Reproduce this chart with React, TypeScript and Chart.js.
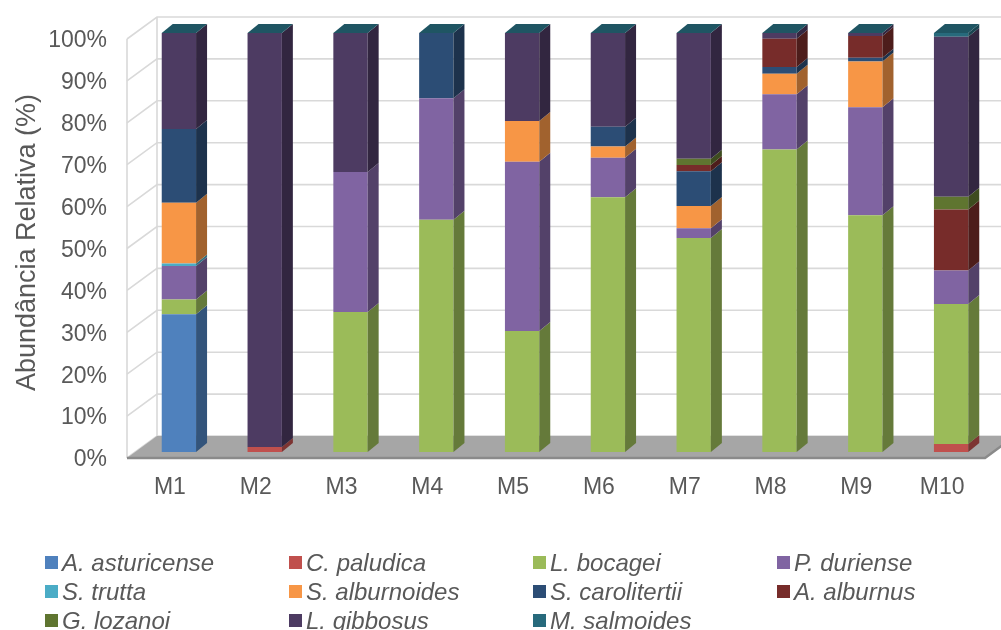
import React, { useEffect, useRef } from 'react';
import { Chart, registerables } from 'chart.js';

Chart.register(...registerables);

const categories = ['M1', 'M2', 'M3', 'M4', 'M5', 'M6', 'M7', 'M8', 'M9', 'M10'];
const yTicks = [0, 10, 20, 30, 40, 50, 60, 70, 80, 90, 100];

const seriesNames = [
  'A. asturicense', 'C. paludica', 'L. bocagei', 'P. duriense',
  'S. trutta', 'S. alburnoides', 'S. carolitertii', 'A. alburnus',
  'G. lozanoi', 'L. gibbosus', 'M. salmoides',
];
const seriesColors = [
  '#4F81BD', '#C0504D', '#9BBB59', '#8064A2',
  '#4BACC6', '#F79646', '#2C4D75', '#772C2A',
  '#5F7530', '#4D3B62', '#276A7C',
];

const asturicense = [32.9, 0, 0, 0, 0, 0, 0, 0, 0, 0];
const paludica = [0, 1.2, 0, 0, 0, 0, 0, 0, 0, 1.9];
const bocagei = [3.5, 0, 33.4, 55.4, 28.9, 60.8, 51.1, 72.2, 56.5, 33.4];
const duriense = [8.0, 0, 33.4, 29.0, 40.4, 9.4, 2.3, 13.2, 25.8, 8.0];
const trutta = [0.6, 0, 0, 0, 0, 0, 0, 0, 0, 0];
const alburnoides = [14.5, 0, 0, 0, 9.7, 2.7, 5.3, 4.9, 10.9, 0];
const carolitertii = [17.6, 0, 0, 15.6, 0, 4.7, 8.3, 1.6, 0.9, 0];
const alburnus = [0, 0, 0, 0, 0, 0, 1.5, 6.7, 5.2, 14.6];
const lozanoi = [0, 0, 0, 0, 0, 0, 1.5, 0, 0, 3.0];
const gibbosus = [22.9, 98.8, 33.2, 0, 21.0, 22.4, 30.0, 1.4, 0.7, 38.2];
const salmoides = [0, 0, 0, 0, 0, 0, 0, 0, 0, 0.9];

const seriesValues = [
  asturicense, paludica, bocagei, duriense, trutta, alburnoides,
  carolitertii, alburnus, lozanoi, gibbosus, salmoides,
];

const FONT = '"Liberation Sans", Arial, sans-serif';
const TEXT = '#595959';

function shade(hex: string, f: number) {
  const n = parseInt(hex.slice(1), 16);
  const r = Math.round(((n >> 16) & 255) * f);
  const g = Math.round(((n >> 8) & 255) * f);
  const b = Math.round((n & 255) * f);
  return `rgb(${r},${g},${b})`;
}

// perspective offsets (relative to bar front plane)
const FRONT = { x: -9, y: 6 };
const BACK = { x: 21, y: -16 };
const BAR_D = { x: 11, y: -9 };

const depthPlugin = {
  id: 'depth3d',
  beforeDatasetsDraw(chart: any) {
    const { ctx, chartArea, scales } = chart;
    const ys = scales.y;
    const L = chartArea.left;
    const R = chartArea.right;
    const W = chart.width;
    const y0 = ys.getPixelForValue(0);
    const y100 = ys.getPixelForValue(100);
    ctx.save();
    ctx.strokeStyle = '#D9D9D9';
    ctx.lineWidth = 1.6;
    yTicks.forEach((v) => {
      const yy = ys.getPixelForValue(v);
      ctx.beginPath();
      ctx.moveTo(L + FRONT.x, yy + FRONT.y);
      ctx.lineTo(L + BACK.x, yy + BACK.y);
      ctx.lineTo(W + 20, yy + BACK.y);
      ctx.stroke();
    });
    ctx.beginPath();
    ctx.moveTo(L + FRONT.x, y0 + FRONT.y);
    ctx.lineTo(L + FRONT.x, y100 + FRONT.y);
    ctx.moveTo(L + BACK.x, y0 + BACK.y);
    ctx.lineTo(L + BACK.x, y100 + BACK.y);
    ctx.stroke();
    // floor
    ctx.fillStyle = '#A6A6A6';
    ctx.beginPath();
    ctx.moveTo(L + FRONT.x, y0 + FRONT.y);
    ctx.lineTo(R + FRONT.x, y0 + FRONT.y);
    ctx.lineTo(R + BACK.x, y0 + BACK.y);
    ctx.lineTo(L + BACK.x, y0 + BACK.y);
    ctx.closePath();
    ctx.fill();
    ctx.strokeStyle = '#8A8A8A';
    ctx.lineWidth = 2.5;
    ctx.beginPath();
    ctx.moveTo(L + FRONT.x, y0 + FRONT.y);
    ctx.lineTo(R + FRONT.x, y0 + FRONT.y);
    ctx.lineTo(R + BACK.x, y0 + BACK.y);
    ctx.stroke();
    ctx.restore();
  },
  afterDatasetsDraw(chart: any) {
    const { ctx } = chart;
    const n = chart.data.labels.length;
    ctx.save();
    for (let i = 0; i < n; i++) {
      let topY: number | null = null;
      let xL = 0;
      let xR = 0;
      chart.data.datasets.forEach((ds: any, di: number) => {
        const el = chart.getDatasetMeta(di).data[i];
        if (!el) return;
        const p = el.getProps(['x', 'y', 'base', 'width'], true);
        xL = p.x - p.width / 2;
        xR = p.x + p.width / 2;
        const yt = Math.min(p.y, p.base);
        const yb = Math.max(p.y, p.base);
        if (yb - yt > 0.05) {
          ctx.fillStyle = shade(seriesColors[di], 0.65);
          ctx.beginPath();
          ctx.moveTo(xR, yb);
          ctx.lineTo(xR, yt);
          ctx.lineTo(xR + BAR_D.x, yt + BAR_D.y);
          ctx.lineTo(xR + BAR_D.x, yb + BAR_D.y);
          ctx.closePath();
          ctx.fill();
        }
        if (topY === null || yt < topY) topY = yt;
      });
      if (topY !== null) {
        ctx.fillStyle = shade(seriesColors[seriesColors.length - 1], 0.8);
        ctx.beginPath();
        ctx.moveTo(xL, topY);
        ctx.lineTo(xR, topY);
        ctx.lineTo(xR + BAR_D.x, topY + BAR_D.y);
        ctx.lineTo(xL + BAR_D.x, topY + BAR_D.y);
        ctx.closePath();
        ctx.fill();
      }
    }
    ctx.restore();
  },
};

const legendCols = 4;

export default function App() {
  const canvasRef = useRef<HTMLCanvasElement | null>(null);

  useEffect(() => {
    if (!canvasRef.current) return;
    const chart = new Chart(canvasRef.current, {
      type: 'bar',
      data: {
        labels: categories,
        datasets: seriesNames.map((name, i) => ({
          label: name,
          data: seriesValues[i],
          backgroundColor: seriesColors[i],
          borderWidth: 0,
          barPercentage: 0.4,
          categoryPercentage: 1,
        })),
      },
      options: {
        responsive: false,
        animation: false,
        devicePixelRatio: 1,
        layout: { padding: { top: 33, right: 7, left: 0, bottom: 0 } },
        plugins: {
          legend: { display: false },
          tooltip: { enabled: false },
        },
        scales: {
          x: {
            stacked: true,
            grid: { display: false, drawTicks: false },
            border: { display: false },
            ticks: {
              color: TEXT,
              font: { family: FONT, size: 23 },
              padding: 22,
              labelOffset: -9,
            },
            afterFit: (s: any) => {
              s.height = 178;
              s.paddingLeft = 0;
              s.paddingRight = 0;
            },
          },
          y: {
            stacked: true,
            min: 0,
            max: 100,
            grid: { display: false, drawTicks: false },
            border: { display: false },
            ticks: {
              stepSize: 10,
              color: TEXT,
              font: { family: FONT, size: 23 },
              padding: 29,
              labelOffset: 8,
              callback: (v: any) => `${v}%`,
            },
            title: {
              display: true,
              text: 'Abundância Relativa (%)',
              color: TEXT,
              font: { family: FONT, size: 27, weight: 'normal' },
              padding: { top: 11, bottom: 0 },
            },
            afterFit: (s: any) => {
              s.width = 136;
              s.paddingTop = 0;
              s.paddingBottom = 0;
            },
          },
        },
      },
      plugins: [depthPlugin],
    });
    return () => chart.destroy();
  }, []);

  return (
    <div style={{ position: 'relative', width: 1001, height: 630, background: '#fff', overflow: 'hidden' }}>
      <style>{'body{margin:0;}'}</style>
      <canvas ref={canvasRef} width={1001} height={630} style={{ display: 'block' }} />
      {seriesNames.map((name, i) => {
        const col = i % legendCols;
        const row = Math.floor(i / legendCols);
        return (
          <div
            key={name}
            style={{
              position: 'absolute',
              left: 45 + col * 244,
              top: 562.5 + row * 29 - 15,
              height: 30,
              display: 'flex',
              alignItems: 'center',
              fontFamily: FONT,
              fontSize: 24,
              fontStyle: 'italic',
              color: TEXT,
              whiteSpace: 'nowrap',
            }}
          >
            <span style={{ display: 'inline-block', width: 13, height: 13, background: seriesColors[i], marginRight: 4 }} />
            <span>{name}</span>
          </div>
        );
      })}
    </div>
  );
}
